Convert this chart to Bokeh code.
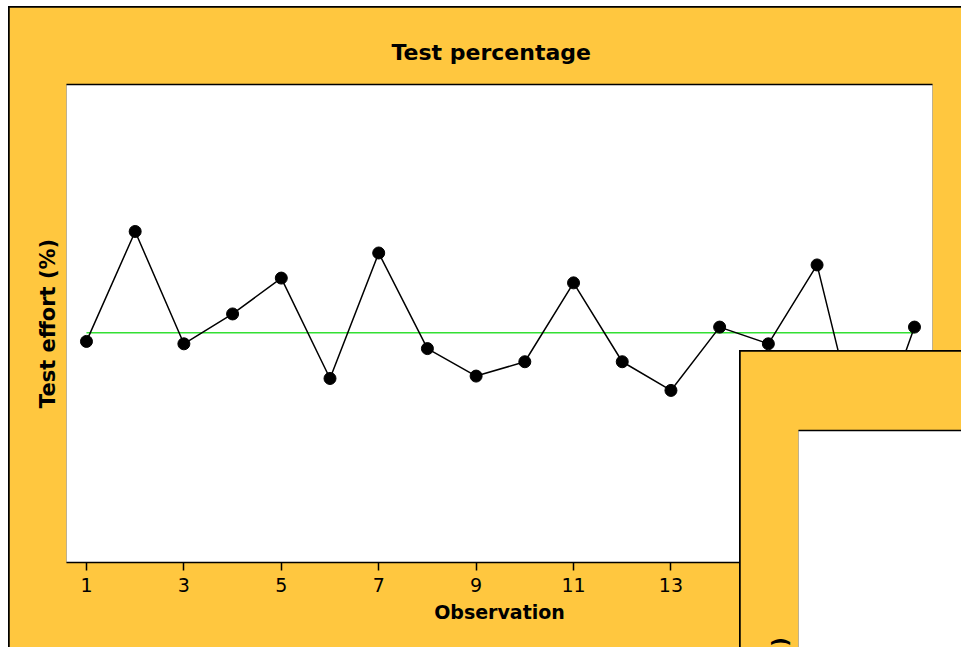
from bokeh.plotting import figure
from bokeh.layouts import column
from bokeh.models import Range1d, FixedTicker, LinearAxis
from bokeh.embed import file_html
from bokeh.resources import INLINE
import numpy as np

# ---- data (the y axis carries no tick labels) ----
observations = [1, 2, 3, 4, 5, 6, 7, 8, 9, 10, 11, 12, 13, 14, 15, 16, 17, 18]
test_effort = [18.5, 27.7, 18.3, 20.8, 23.8, 15.4, 25.9, 17.9, 15.6,
               16.8, 23.4, 16.8, 14.4, 19.7, 18.3, 24.9, 8.3, 19.7]
tick_values = [1, 3, 5, 7, 9, 11, 13, 15, 17]
title_text = "Test percentage"
x_label = "Observation"
y_label = "Test effort (%)"

ORANGE = "#FFC73F"
FONT = "DejaVu Sans"


def bare_axis(**kw):
    return LinearAxis(ticker=FixedTicker(ticks=[]), major_tick_in=0, major_tick_out=0,
                      minor_tick_line_color=None, major_label_standoff=0, **kw)


def y_label_axis(text):
    return bare_axis(axis_label=text, axis_label_text_font=FONT,
                     axis_label_text_font_size="21px", axis_label_text_font_style="bold",
                     axis_label_text_color="black", axis_label_standoff=7,
                     axis_line_color=None)


# ---------------- main panel ----------------
p = figure(width=952, height=640, output_backend="svg", toolbar_location=None,
           x_range=Range1d(0.59, 18.37), y_range=Range1d(0, 40),
           x_axis_location=None, y_axis_location=None,
           min_border_left=57, min_border_right=29, min_border_top=77,
           min_border_bottom=85, background_fill_color="white",
           border_fill_color=ORANGE, outline_line_color=None,
           margin=(1, 0, 0, 1))
p.grid.visible = False

p.title.text = title_text
p.title.text_font = FONT
p.title.text_font_size = "22px"
p.title.text_font_style = "bold"
p.title.text_color = "black"
p.title.align = "left"
p.title.offset = 325
p.title.standoff = 39

xa = LinearAxis(ticker=FixedTicker(ticks=tick_values), axis_label=x_label,
                axis_label_text_font=FONT, axis_label_text_font_size="19px",
                axis_label_text_font_style="bold", axis_label_text_color="black",
                axis_label_standoff=6, major_label_text_font=FONT,
                major_label_text_font_size="19px", major_label_text_color="black",
                major_label_standoff=7, major_tick_in=0, major_tick_out=8,
                major_tick_line_width=1.5, minor_tick_line_color=None,
                axis_line_width=1.5)
p.add_layout(xa, "below")
p.add_layout(y_label_axis(y_label), "left")
p.add_layout(bare_axis(axis_line_width=1.5), "above")   # top line of the plot area

mean_val = float(np.mean(test_effort))
p.line([observations[0], observations[-1]], [mean_val, mean_val],
       line_color="#33E033", line_width=1.5)
p.line(observations, test_effort, line_color="black", line_width=1.5)
p.scatter(observations, test_effort, size=12, fill_color="black", line_color="black")

main_panel = column(p, margin=(6, 0, 0, 8), styles={"background-color": "black"})

# ---------------- second panel, overlapping at bottom right (mostly off-page) ----------------
p2 = figure(width=221, height=296, output_backend="svg", toolbar_location=None,
            x_range=Range1d(0, 1), y_range=Range1d(0, 1),
            x_axis_location=None, y_axis_location=None,
            min_border_left=58, min_border_right=0, min_border_top=79,
            min_border_bottom=0, background_fill_color="white",
            border_fill_color=ORANGE, outline_line_color=None,
            margin=(1, 0, 0, 1))
p2.grid.visible = False
p2.add_layout(bare_axis(axis_line_width=1.5), "above")
# only the end of this panel's y label shows at the page bottom; the trailing
# no-break spaces push the visible glyphs down to where the reference shows them
p2.add_layout(y_label_axis(y_label + "\u00a0" * 50), "left")

second_panel = column(p2, margin=(-297, 0, 0, 739),
                      styles={"background-color": "black", "overflow": "hidden"})

root = column(main_panel, second_panel)

open("out.html", "w").write(file_html(root, INLINE))
